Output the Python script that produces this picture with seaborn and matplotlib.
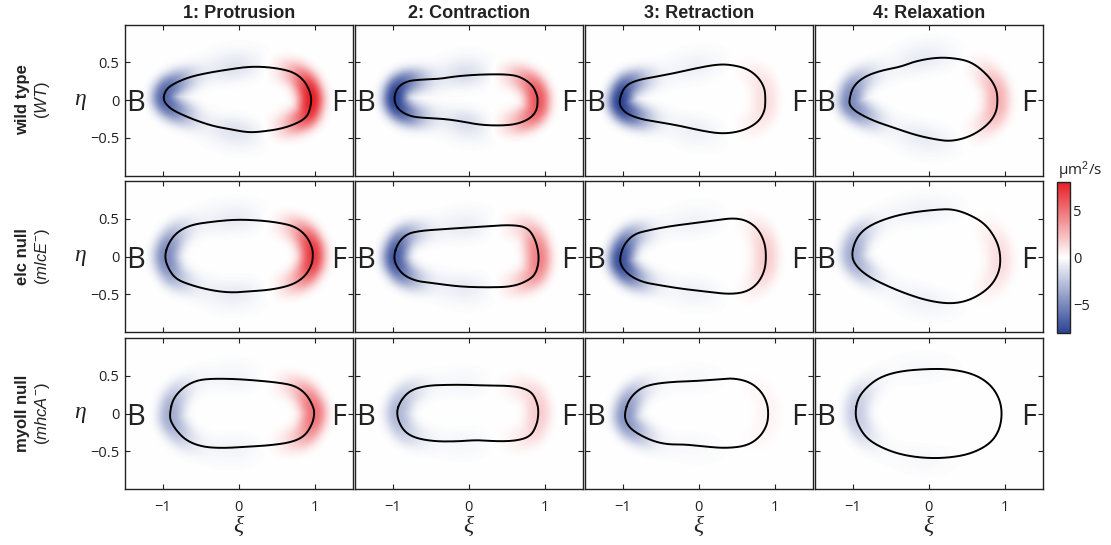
import numpy as np
import pandas as pd
import matplotlib
matplotlib.use("Agg")
import matplotlib.pyplot as plt
import seaborn as sns
from matplotlib.colors import LinearSegmentedColormap
from matplotlib.path import Path

# ---------------- data ----------------
phases = ["1: Protrusion", "2: Contraction", "3: Retraction", "4: Relaxation"]
strains = ["wild type", "elc null", "myoII null"]
genotypes = [r"$(\mathit{WT})$", r"$(\mathit{mlcE}^{-})$", r"$(\mathit{mhcA}^{-})$"]

# peak values of the map (um^2/s) at the front, back and along the sides, per strain x phase
front_peak = [[8.0, 6.0, 1.2, 2.8],
              [7.0, 4.5, 1.8, 1.2],
              [5.0, 1.8, 0.4, 0.0]]
back_peak = [[-6.5, -8.0, -8.0, -5.0],
             [-5.0, -7.0, -7.5, -3.5],
             [-3.5, -3.0, -4.5, -2.2]]
side_level = [[-1.3, -1.6, -0.7, -0.9],
              [-0.9, -0.9, -0.6, -0.6],
              [-0.5, -0.4, -0.3, -0.3]]

# cell outlines (xi, eta)
outline_wt_protrusion = [(-1.00, 0.00), (-0.97, 0.12), (-0.89, 0.20), (-0.67, 0.30), (-0.41, 0.36), (-0.10, 0.41),
                         (0.12, 0.44), (0.34, 0.44), (0.57, 0.41), (0.74, 0.36), (0.87, 0.25), (0.94, 0.11),
                         (0.96, 0.00), (0.94, -0.12), (0.90, -0.22), (0.79, -0.30), (0.57, -0.38), (0.30, -0.42),
                         (0.12, -0.43), (-0.10, -0.39), (-0.32, -0.35), (-0.54, -0.28), (-0.76, -0.19), (-0.91, -0.11)]
outline_wt_contraction = [(-0.99, 0.00), (-0.95, 0.16), (-0.82, 0.25), (-0.64, 0.27), (-0.38, 0.28), (-0.20, 0.31),
                          (0.02, 0.33), (0.24, 0.34), (0.51, 0.34), (0.68, 0.31), (0.84, 0.20), (0.90, 0.07),
                          (0.91, 0.00), (0.90, -0.13), (0.82, -0.24), (0.64, -0.32), (0.42, -0.34), (0.15, -0.33),
                          (-0.11, -0.28), (-0.33, -0.25), (-0.55, -0.24), (-0.77, -0.22), (-0.93, -0.13)]
outline_wt_retraction = [(-1.05, 0.00), (-0.98, 0.18), (-0.83, 0.26), (-0.56, 0.31), (-0.30, 0.36), (-0.04, 0.42),
                         (0.23, 0.47), (0.41, 0.47), (0.63, 0.42), (0.78, 0.31), (0.87, 0.16), (0.88, 0.00),
                         (0.87, -0.15), (0.78, -0.30), (0.58, -0.41), (0.32, -0.45), (0.05, -0.41), (-0.21, -0.35),
                         (-0.48, -0.30), (-0.74, -0.26), (-0.94, -0.19), (-1.03, -0.10)]
outline_wt_relaxation = [(-1.05, 0.00), (-1.00, 0.18), (-0.85, 0.31), (-0.63, 0.39), (-0.37, 0.44), (-0.19, 0.51),
                         (0.07, 0.56), (0.30, 0.56), (0.56, 0.51), (0.78, 0.33), (0.89, 0.16), (0.91, 0.00),
                         (0.89, -0.17), (0.78, -0.33), (0.56, -0.48), (0.30, -0.55), (0.07, -0.52), (-0.19, -0.46),
                         (-0.45, -0.37), (-0.72, -0.28), (-0.94, -0.17), (-1.04, -0.08)]
outline_elc_protrusion = [(-0.98, 0.00), (-0.93, 0.17), (-0.82, 0.32), (-0.63, 0.42), (-0.36, 0.46), (-0.05, 0.49),
                          (0.26, 0.48), (0.52, 0.45), (0.74, 0.40), (0.89, 0.28), (0.97, 0.12), (0.98, 0.00),
                          (0.96, -0.12), (0.87, -0.27), (0.70, -0.38), (0.43, -0.44), (0.17, -0.46), (-0.10, -0.48),
                          (-0.36, -0.45), (-0.63, -0.38), (-0.83, -0.30), (-0.93, -0.16)]
outline_elc_contraction = [(-0.99, 0.00), (-0.94, 0.17), (-0.82, 0.30), (-0.64, 0.34), (-0.37, 0.36), (-0.07, 0.38),
                           (0.24, 0.40), (0.55, 0.42), (0.77, 0.39), (0.88, 0.23), (0.93, 0.00), (0.90, -0.19),
                           (0.82, -0.30), (0.59, -0.40), (0.24, -0.41), (-0.11, -0.40), (-0.42, -0.36),
                           (-0.68, -0.33), (-0.86, -0.25), (-0.96, -0.12)]
outline_elc_retraction = [(-1.04, 0.00), (-0.98, 0.17), (-0.85, 0.30), (-0.65, 0.35), (-0.39, 0.40), (-0.08, 0.44),
                          (0.23, 0.48), (0.45, 0.51), (0.63, 0.48), (0.78, 0.37), (0.87, 0.19), (0.89, 0.00),
                          (0.87, -0.19), (0.78, -0.36), (0.63, -0.47), (0.41, -0.50), (0.14, -0.47), (-0.21, -0.43),
                          (-0.52, -0.38), (-0.74, -0.34), (-0.92, -0.25), (-1.03, -0.12)]
outline_elc_relaxation = [(-1.02, 0.00), (-0.98, 0.19), (-0.88, 0.34), (-0.70, 0.45), (-0.44, 0.54), (-0.18, 0.59),
                          (0.09, 0.62), (0.31, 0.63), (0.53, 0.56), (0.75, 0.43), (0.90, 0.21), (0.95, 0.00),
                          (0.93, -0.21), (0.81, -0.41), (0.57, -0.57), (0.31, -0.63), (0.00, -0.59), (-0.31, -0.49),
                          (-0.57, -0.38), (-0.79, -0.27), (-0.95, -0.14)]
outline_myo_protrusion = [(-0.91, 0.00), (-0.87, 0.19), (-0.74, 0.34), (-0.58, 0.43), (-0.41, 0.46), (-0.10, 0.46),
                          (0.21, 0.44), (0.52, 0.41), (0.74, 0.37), (0.89, 0.26), (0.98, 0.10), (1.00, 0.00),
                          (0.97, -0.14), (0.87, -0.30), (0.70, -0.38), (0.43, -0.42), (0.12, -0.44), (-0.23, -0.46),
                          (-0.49, -0.44), (-0.69, -0.36), (-0.82, -0.23), (-0.90, -0.10)]
outline_myo_contraction = [(-0.96, 0.00), (-0.90, 0.17), (-0.77, 0.31), (-0.55, 0.37), (-0.29, 0.38), (-0.02, 0.38),
                           (0.24, 0.37), (0.46, 0.37), (0.68, 0.35), (0.84, 0.28), (0.91, 0.12), (0.92, 0.00),
                           (0.90, -0.14), (0.82, -0.30), (0.64, -0.36), (0.38, -0.37), (0.11, -0.35), (-0.15, -0.37),
                           (-0.46, -0.37), (-0.73, -0.32), (-0.88, -0.21)]
outline_myo_retraction = [(-0.98, 0.00), (-0.92, 0.19), (-0.78, 0.33), (-0.61, 0.39), (-0.34, 0.42), (-0.04, 0.43),
                          (0.23, 0.45), (0.45, 0.47), (0.67, 0.42), (0.82, 0.30), (0.90, 0.15), (0.92, 0.00),
                          (0.90, -0.16), (0.80, -0.32), (0.63, -0.43), (0.36, -0.46), (0.10, -0.44), (-0.17, -0.41),
                          (-0.43, -0.41), (-0.65, -0.35), (-0.87, -0.23), (-0.96, -0.12)]
outline_myo_relaxation = [(-0.97, 0.00), (-0.94, 0.19), (-0.83, 0.34), (-0.65, 0.48), (-0.39, 0.56), (-0.04, 0.59),
                          (0.27, 0.59), (0.58, 0.53), (0.80, 0.40), (0.93, 0.21), (0.97, 0.00), (0.93, -0.23),
                          (0.80, -0.41), (0.54, -0.54), (0.23, -0.59), (-0.08, -0.59), (-0.39, -0.54), (-0.65, -0.44),
                          (-0.83, -0.32), (-0.94, -0.14)]

outlines = [[outline_wt_protrusion, outline_wt_contraction, outline_wt_retraction, outline_wt_relaxation],
            [outline_elc_protrusion, outline_elc_contraction, outline_elc_retraction, outline_elc_relaxation],
            [outline_myo_protrusion, outline_myo_contraction, outline_myo_retraction, outline_myo_relaxation]]

xticks = [-1, 0, 1]
xticklabels = ["\u22121", "0", "1"]
yticks = [-0.5, 0, 0.5]
yticklabels = ["\u22120.5", "0", "0.5"]
cbar_ticks = [-5, 0, 5]
cbar_ticklabels = ["\u22125", "0", "5"]
VMAX = 8.0

# ---------------- style ----------------
sns.set_theme(style="white")
plt.rcParams["font.family"] = ["Open Sans", "DejaVu Sans"]
plt.rcParams["mathtext.fontset"] = "custom"
plt.rcParams["mathtext.rm"] = "Liberation Sans"
plt.rcParams["mathtext.it"] = "Liberation Sans:italic"
plt.rcParams["mathtext.bf"] = "Liberation Sans:bold"
plt.rcParams["axes.unicode_minus"] = True

cmap = LinearSegmentedColormap.from_list("bwr_cell", ["#2c4394", "#ffffff", "#e51f26"])


def smooth_closed(pts, iters=5):
    """Chaikin corner cutting of the closed outline polygon."""
    P = np.asarray(pts, float)
    for _ in range(iters):
        Q = np.roll(P, -1, axis=0)
        P = np.column_stack([0.75 * P + 0.25 * Q, 0.25 * P + 0.75 * Q]).reshape(-1, 2)
    return np.vstack([P, P[:1]])


gx = np.linspace(-1.5, 1.5, 241)
gy = np.linspace(-1.0, 1.0, 161)
GX, GY = np.meshgrid(gx, gy)
gpts = np.column_stack([GX.ravel(), GY.ravel()])


def field_map(curve, F, Bv, S):
    """Spread the boundary values (front/back/side) into a band around the outline."""
    mid = 0.5 * (curve[:-1] + curve[1:])
    ds = np.linalg.norm(np.diff(curve, axis=0), axis=1)
    tip_f = curve[np.argmax(curve[:, 0])]
    tip_b = curve[np.argmin(curve[:, 0])]
    wf = np.exp(-(np.linalg.norm(mid - tip_f, axis=1) / 0.45) ** 2.5)
    wb = np.exp(-(np.linalg.norm(mid - tip_b, axis=1) / 0.42) ** 2.5)
    phi = np.arctan2(mid[:, 1], mid[:, 0])
    ws = np.sin(phi) ** 2 * np.exp(-((mid[:, 0] + 0.2) / 0.6) ** 2)
    amp_tip = F * wf + Bv * wb
    amp_side = S * ws
    inside = Path(curve).contains_points(gpts)
    sig_t = np.where(inside, 0.18, 0.165)
    sig_s = np.where(inside, 0.16, 0.22)
    out = np.zeros(len(gpts))
    step = 3000
    for s in range(0, len(gpts), step):
        p = gpts[s:s + step]
        d2 = (p[:, :1] - mid[None, :, 0]) ** 2 + (p[:, 1:2] - mid[None, :, 1]) ** 2
        K = np.exp(-d2 / 0.10 ** 2) * ds[None, :] + 1e-300
        Ks = K.sum(axis=1)
        a_t = (K @ amp_tip) / Ks
        a_s = (K @ amp_side) / Ks
        dmin = np.sqrt(d2.min(axis=1))
        st = sig_t[s:s + step]
        ss = sig_s[s:s + step]
        out[s:s + step] = a_t * np.exp(-(dmin / st) ** 2.5) + a_s * np.exp(-(dmin / ss) ** 2)
    return out.reshape(GX.shape)


W, H = 1111, 545
fig = plt.figure(figsize=(W / 100, H / 100), dpi=100)
col_left = [125, 355, 585, 815]
row_top = [24.5, 181, 338]
aw, ah = 227.5, 151

im = None
for r in range(3):
    for c in range(4):
        ax = fig.add_axes([col_left[c] / W, 1 - (row_top[r] + ah) / H, aw / W, ah / H])
        curve = smooth_closed(outlines[r][c])
        fmap = field_map(curve, front_peak[r][c], back_peak[r][c], side_level[r][c])
        im = ax.imshow(fmap, extent=[-1.5, 1.5, -1, 1], origin="lower", cmap=cmap,
                       vmin=-VMAX, vmax=VMAX, interpolation="bilinear", aspect="auto", zorder=0)
        df = pd.DataFrame({"xi": curve[:, 0], "eta": curve[:, 1]})
        sns.lineplot(data=df, x="xi", y="eta", sort=False, estimator=None, color="black",
                     linewidth=1.4, ax=ax, zorder=3)
        ax.set_xlim(-1.5, 1.5)
        ax.set_ylim(-1, 1)
        ax.set_xlabel("")
        ax.set_ylabel("")
        ax.set_xticks(xticks)
        ax.set_yticks(yticks)
        ax.set_xticklabels(xticklabels if r == 2 else [])
        ax.set_yticklabels(yticklabels if c == 0 else [])
        ax.tick_params(direction="in", top=True, right=True, bottom=True, left=True,
                       length=3.5, width=0.8, color="#222222", labelsize=10.5, labelcolor="#222222")
        ax.tick_params(axis="x", pad=8)
        ax.tick_params(axis="y", pad=4)
        for sp in ax.spines.values():
            sp.set_visible(True)
            sp.set_color("#222222")
            sp.set_linewidth(1.0)
        ax.text(-1.36, -0.15, "B", ha="center", va="baseline", fontsize=21, color="#222222")
        ax.text(1.32, -0.15, "F", ha="center", va="baseline", fontsize=21, color="#222222")
        if r == 0:
            ax.set_title(phases[c], fontsize=13, fontweight="bold", family="Liberation Sans",
                         pad=5, color="#222222")
        if r == 2:
            fig.text((col_left[c] + aw / 2) / W, 1 - 526 / H, "\u03be", family="Liberation Serif",
                     style="italic", fontsize=17, ha="center", va="center", color="#222222")
    yc = row_top[r] + ah / 2
    fig.text(80 / W, 1 - (yc - 1) / H, "\u03b7", family="Liberation Serif", style="italic",
             fontsize=17, ha="center", va="center", color="#222222")
    fig.text(22.5 / W, 1 - yc / H, strains[r], rotation=90, ha="center", va="center",
             fontsize=12, fontweight="bold", family="Liberation Sans", color="#222222")
    fig.text(43 / W, 1 - yc / H, genotypes[r], rotation=90, ha="center", va="center",
             fontsize=12, color="#222222")

cax = fig.add_axes([1057 / W, 1 - 333 / H, 13 / W, 151 / H])
cb = fig.colorbar(im, cax=cax, ticks=cbar_ticks)
cb.ax.set_yticklabels(cbar_ticklabels)
cb.ax.tick_params(direction="in", length=3, width=0.8, labelsize=10.5, pad=2, colors="#222222")
cb.outline.set_linewidth(1.0)
cb.outline.set_edgecolor("#222222")
fig.text(1080 / W, 1 - 175 / H, "\u03bcm$^2$/s", ha="center", va="baseline", fontsize=11, color="#222222")

fig.savefig("out.png", dpi=100, facecolor="white")
